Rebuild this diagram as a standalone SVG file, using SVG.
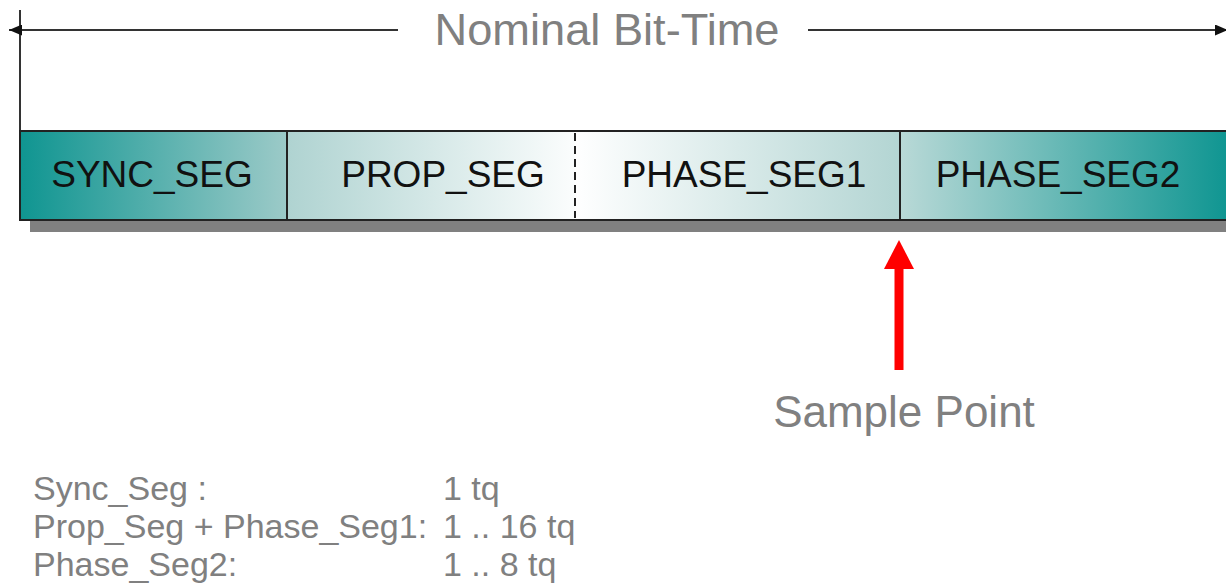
<svg xmlns="http://www.w3.org/2000/svg" width="1226" height="586" viewBox="0 0 1226 586">
<style>
.lbl{font-family:"Liberation Sans",Arial,sans-serif;font-size:37px;fill:#111}
.gray{font-family:"Liberation Sans",Arial,sans-serif;fill:#808080}
.dim{stroke:#333;stroke-width:2;fill:none}
.seg{stroke:#222;stroke-width:2}
</style>
<defs>
<linearGradient id="gSync" x1="0" x2="1" y1="0" y2="0"><stop offset="0" stop-color="#0f9591"/><stop offset="1" stop-color="#9ccac8"/></linearGradient>
<linearGradient id="gProp" x1="0" x2="1" y1="0" y2="0"><stop offset="0" stop-color="#afd3d1"/><stop offset="1" stop-color="#fbfdfd"/></linearGradient>
<linearGradient id="gPh1" x1="0" x2="1" y1="0" y2="0"><stop offset="0" stop-color="#ffffff"/><stop offset="1" stop-color="#b3d5d3"/></linearGradient>
<linearGradient id="gPh2" x1="0" x2="1" y1="0" y2="0"><stop offset="0" stop-color="#b9d9d7"/><stop offset="1" stop-color="#0e9591"/></linearGradient>
<marker id="ah" viewBox="0 0 10 10" refX="10" refY="5" markerWidth="13" markerHeight="11" orient="auto-start-reverse" markerUnits="userSpaceOnUse" preserveAspectRatio="none"><path d="M0,0 L10,5 L0,10 z" fill="#111"/></marker>
</defs>

<g id="bit-time">
<line class="dim" x1="20" y1="10" x2="20" y2="131"/>
<line class="dim" x1="398" y1="30" x2="9" y2="30" marker-end="url(#ah)"/>
<line class="dim" x1="808" y1="30" x2="1228" y2="30" marker-end="url(#ah)"/>
<text class="gray" x="607" y="45" font-size="44" text-anchor="middle" textLength="345" lengthAdjust="spacingAndGlyphs">Nominal Bit-Time</text>
</g>

<rect x="30" y="141" width="1206" height="91" fill="#808080"/>

<g id="sync_seg">
<rect class="seg" x="20" y="131" width="267" height="89" fill="url(#gSync)"/>
<text class="lbl" x="152" y="187" text-anchor="middle">SYNC_SEG</text>
</g>
<g id="prop_seg">
<rect x="287" y="131" width="288" height="89" fill="url(#gProp)" stroke="none"/>
<text class="lbl" x="443" y="187" text-anchor="middle">PROP_SEG</text>
</g>
<g id="phase_seg1">
<rect x="575" y="131" width="325" height="89" fill="url(#gPh1)" stroke="none"/>
<text class="lbl" x="744" y="187" text-anchor="middle">PHASE_SEG1</text>
</g>
<g id="phase_seg2">
<rect x="900" y="131" width="330" height="89" fill="url(#gPh2)" stroke="none"/>
<text class="lbl" x="1058" y="187" text-anchor="middle">PHASE_SEG2</text>
</g>
<g id="frame">
<line class="seg" x1="287" y1="131" x2="1230" y2="131"/>
<line class="seg" x1="287" y1="220" x2="1230" y2="220"/>
<line class="seg" x1="287" y1="131" x2="287" y2="220"/>
<line class="seg" x1="900" y1="131" x2="900" y2="220"/>
<line x1="575" y1="133" x2="575" y2="218" stroke="#222" stroke-width="2" stroke-dasharray="8,5"/>
</g>

<g id="connectors">
<line x1="899" y1="370" x2="899" y2="266" stroke="#ff0000" stroke-width="9"/>
<path d="M899,240 L914,269 L884,269 z" fill="#ff0000"/>
</g>
<g id="sample_point">
<text class="gray" x="904" y="427" font-size="44" text-anchor="middle">Sample Point</text>
</g>

<g id="table" class="gray" font-size="34">
<text x="33" y="500">Sync_Seg :</text>
<text x="443" y="500">1 tq</text>
<text x="33" y="538">Prop_Seg + Phase_Seg1:</text>
<text x="443" y="538">1 .. 16 tq</text>
<text x="33" y="576">Phase_Seg2:</text>
<text x="443" y="576">1 .. 8 tq</text>
</g>
</svg>
